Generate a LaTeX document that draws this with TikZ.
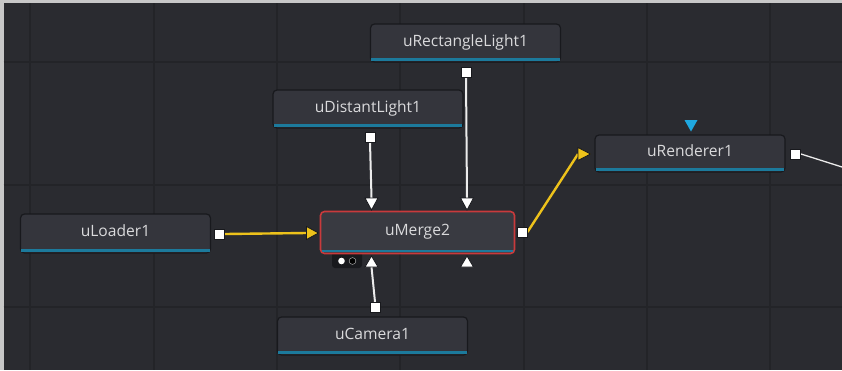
\documentclass[tikz,border=0pt]{standalone}
\usepackage{fontspec}
\setmainfont{Open Sans}
\definecolor{bgcol}{HTML}{2A2B30}
\definecolor{gridcol}{HTML}{232428}
\definecolor{nodefill}{HTML}{34353C}
\definecolor{mergefill}{HTML}{393A41}
\definecolor{nodeborder}{HTML}{18191D}
\definecolor{barcol}{HTML}{1C7A9C}
\definecolor{redcol}{HTML}{C93A3C}
\definecolor{textcol}{HTML}{DADADC}
\definecolor{ycol}{HTML}{EDC21B}
\definecolor{wcol}{HTML}{ECECEC}
\definecolor{tribl}{HTML}{1FA8E0}
\definecolor{framecol}{HTML}{C8C8C8}
\begin{document}
\begin{tikzpicture}[x=1pt,y=-1pt,
  fnode/.style={rectangle, rounded corners=4pt, fill=nodefill, draw=nodeborder, line width=1.2pt,
    minimum width=190pt, minimum height=38pt, inner sep=0pt, text=textcol,
    text height=11.5pt, text depth=5pt, font=\fontsize{15.6}{18}\selectfont},
  mnode/.style={fnode, fill=mergefill, draw=redcol, line width=1.6pt, minimum width=194pt, minimum height=42pt},
  port/.style={rectangle, fill=white, draw=nodeborder, line width=1pt, minimum size=10pt, inner sep=0pt},
  wtri/.style={fill=white, draw=nodeborder, line width=0.8pt},
  ytri/.style={fill=ycol, draw=nodeborder, line width=0.8pt},
  btri/.style={fill=tribl, draw=none},
  yline/.style={draw=ycol, line width=2.4pt},
  wline/.style={draw=wcol, line width=2pt},
  gridline/.style={draw=gridcol, line width=1.4pt},
  dotbox/.style={rectangle, rounded corners=3pt, fill=nodeborder, minimum width=30pt, minimum height=16pt, inner sep=0pt}
]
\useasboundingbox (0,0) rectangle (842,370);
\fill[framecol] (0,0) rectangle (842,370);
\fill[bgcol] (3.5,3) rectangle (842,370);
% grid
\foreach \gx in {30,154,277,400,524,647,770} {\draw[gridline] (\gx,3) -- (\gx,370);}
\foreach \gy in {62,185,307} {\draw[gridline] (3.5,\gy) -- (842,\gy);}

% dot box under merge
\node[dotbox] (mgdots) at (347,260) {};
\fill[white] (341.5,261) circle (3.3pt);
\filldraw[fill=black, draw=gray!60, line width=0.5pt] (352.5,261) circle (3.4pt);

% nodes
\node[fnode] (rl) at (465.5,43) {uRectangleLight1};
\node[fnode] (dl) at (368,109) {uDistantLight1};
\node[fnode, minimum height=39pt] (ld) at (115.5,233.5) {uLoader1};
\node[mnode] (mg) at (417.5,232.5) {uMerge2};
\node[fnode] (cam) at (372.5,336) {uCamera1};
\node[fnode, minimum height=37pt] (ren) at (690,153.5) {uRenderer1};

% blue bars
\foreach \n in {rl,dl,ld,cam,ren} {
  \fill[barcol] ([xshift=1.5pt,yshift=1.6pt]\n.south west) rectangle ([xshift=-1.5pt,yshift=4.2pt]\n.south east);
}
\fill[barcol] ([xshift=2pt,yshift=2.2pt]mg.south west) rectangle ([xshift=-2pt,yshift=4.8pt]mg.south east);

% triangle anchor points
\coordinate (mtop1) at (371.5,198);
\coordinate (mtop2) at (467,198);
\coordinate (mbot1) at (371.5,267);
\coordinate (mbot2) at (467,267);
\coordinate (min) at (306.5,233);
\coordinate (rin) at (578,154);
\coordinate (rtop) at (691,120);
\coordinate (rend) at (842,167);

% ports
\node[port] (rlout) at (466,72) {};
\node[port] (dlout) at (370,137) {};
\node[port] (ldout) at (219.5,234) {};
\node[port] (mgout) at (522,232) {};
\node[port] (camout) at (375,307.5) {};
\node[port] (renout) at (795.5,154) {};

% connectors
\draw[yline] (ldout.east) -- (min);
\draw[yline] (mgout.east) -- (rin);
\draw[wline] (rlout.south) -- (mtop2);
\draw[wline] (dlout.south) -- (mtop1);
\draw[wline] (camout.north) -- (mbot1);
\draw[draw=wcol, line width=1.3pt] (renout.east) -- (rend);

% redraw ports on top
\node[port] at (rlout) {};
\node[port] at (dlout) {};
\node[port] at (ldout) {};
\node[port] at (mgout) {};
\node[port] at (camout) {};
\node[port] at (renout) {};

% triangles
\filldraw[wtri] (mtop1) ++(-6.5,0) -- ++(13,0) -- ++(-6.5,12) -- cycle;
\filldraw[wtri] (mtop2) ++(-6.5,0) -- ++(13,0) -- ++(-6.5,12) -- cycle;
\filldraw[wtri] (mbot1) ++(-6.5,0) -- ++(13,0) -- ++(-6.5,-11) -- cycle;
\filldraw[wtri] (mbot2) ++(-6.5,0) -- ++(13,0) -- ++(-6.5,-11) -- cycle;
\filldraw[ytri] (min) ++(0,-6.5) -- ++(0,13) -- ++(12,-6.5) -- cycle;
\filldraw[ytri] (rin) ++(0,-6.5) -- ++(0,13) -- ++(12.5,-6.5) -- cycle;
\fill[btri] (rtop) ++(-6.5,0) -- ++(13,0) -- ++(-6.5,11.5) -- cycle;
\end{tikzpicture}
\end{document}
